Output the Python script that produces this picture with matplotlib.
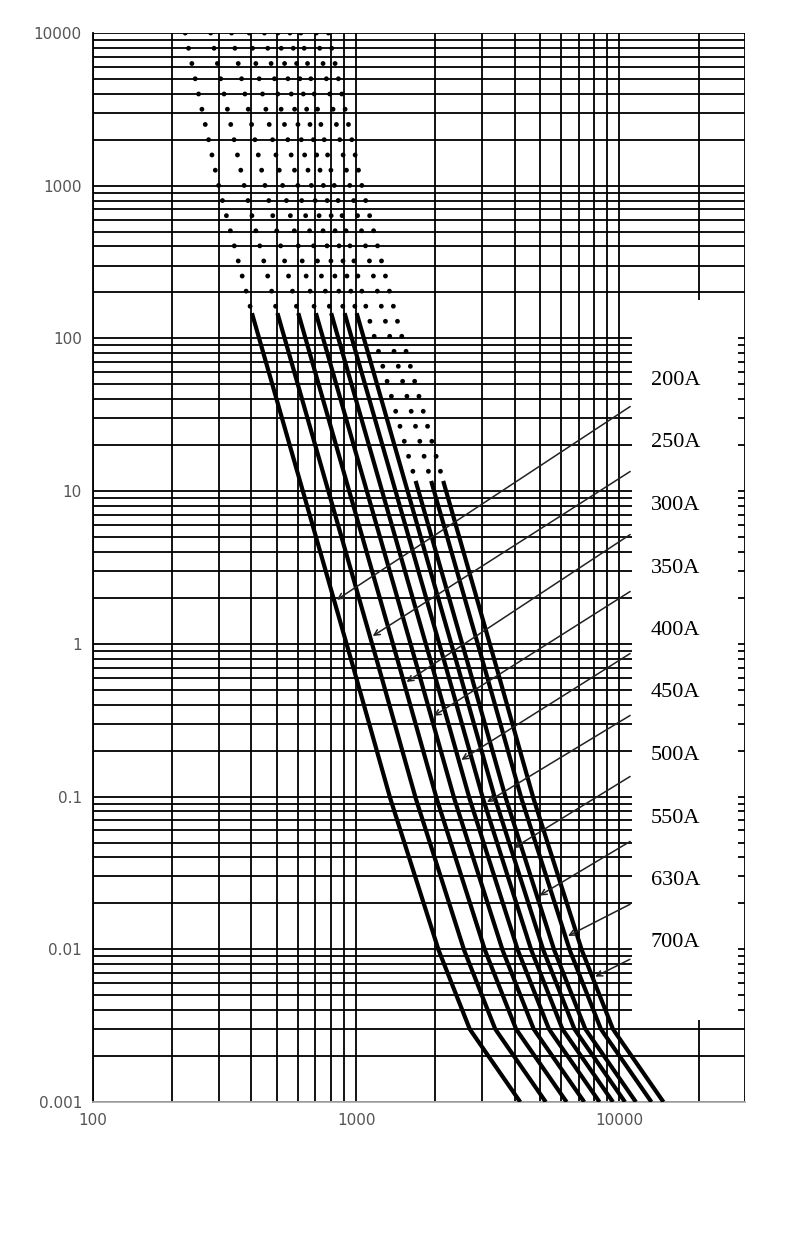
import numpy as np
import matplotlib
matplotlib.use("Agg")
import matplotlib.pyplot as plt
from matplotlib.patches import Rectangle

ratings = [200, 250, 300, 350, 400, 450, 500, 550, 630, 700]
labels = ["200A", "250A", "300A", "350A", "400A", "450A", "500A", "550A", "630A", "700A"]
# per-unit melting curve: multiple of rated current vs time (s)
pu_mult = [1.12, 1.5, 2.0, 4.6, 6.7, 10.25, 13.5, 21.0]
pu_time = [10000, 1000, 150, 1.0, 0.1, 0.01, 0.003, 0.001]
# time below which curve is drawn solid
solid_below = [150, 150, 150, 150, 150, 150, 150, 11.7, 11.7, 11.7]
# arrow tip times on each curve
arrow_tip_t = [1.9, 1.1, 0.55, 0.33, 0.17, 0.09, 0.045, 0.022, 0.012, 0.0065]
yticks = [10000, 1000, 100, 10, 1, 0.1, 0.01, 0.001]
ytick_labels = ["10000", "1000", "100", "10", "1", "0.1", "0.01", "0.001"]
xticks = [100, 1000, 10000]
xtick_labels = ["100", "1000", "10000"]

W, H = 790, 1235
fig = plt.figure(figsize=(W/100, H/100), dpi=100)
L, R, T, B = 93, 745, 33, 1102
ax = fig.add_axes([L/W, 1-B/H, (R-L)/W, (B-T)/H])
ax.set_xscale("log"); ax.set_yscale("log")
ax.set_xlim(100, 30000); ax.set_ylim(0.001, 10000)

# grid
for d in [1e-3, 1e-2, 1e-1, 1, 10, 100, 1000]:
    for m in range(1, 10):
        ax.axhline(d*m, color="black", lw=1.3, zorder=1)
ax.axhline(10000, color="black", lw=1.3, zorder=1)
for d in [100, 1000, 10000]:
    for m in range(1, 10):
        if d*m <= 30000:
            ax.axvline(d*m, color="black", lw=1.3, zorder=1)

# white label box
def px2data(px, py):
    x = 10**(2 + (px-93)/262.0)
    y = 10**(4 - (py-33)/152.71)
    return x, y
x0, y0 = px2data(630, 1020); x1, y1 = px2data(735, 300)
ax.add_patch(Rectangle((x0, y0), x1-x0, y1-y0, facecolor="white", edgecolor="none", zorder=2))

lpt = np.log10(pu_time)[::-1]
lpm = np.log10(pu_mult)[::-1]
t = np.logspace(4, -3, 600)
for r, sb in zip(ratings, solid_below):
    I = r * 10**np.interp(np.log10(t), lpt, lpm)
    s = t <= sb
    ax.plot(I[s], t[s], color="black", lw=3, zorder=4, solid_capstyle="butt")
    d = t >= sb
    ax.plot(I[d], t[d], color="black", lw=3.5, ls=(0, (0.01, 3.2)), dash_capstyle="round", zorder=4)

label_py = [380, 442, 505, 568, 630, 692, 755, 818, 880, 942]
arrow_py = [405, 470, 533, 590, 652, 714, 775, 840, 903, 958]
for r, lab, lp, ap, tt in zip(ratings, labels, label_py, arrow_py, arrow_tip_t):
    lx, ly = px2data(648, lp)
    ax.text(lx, ly, lab, fontsize=16, family="Liberation Serif", va="center", ha="left", zorder=6)
    tipI = r * 10**np.interp(np.log10(tt), lpt, lpm)
    ax.annotate("", xy=(tipI, tt), xytext=px2data(630, ap),
                arrowprops=dict(arrowstyle="->", color="#222222", lw=1.1), zorder=5)

ax.set_yticks(yticks); ax.set_yticklabels(ytick_labels)
ax.set_xticks(xticks); ax.set_xticklabels(xtick_labels)
ax.minorticks_off()
ax.tick_params(length=0, labelsize=11, colors="#555555", pad=8)
for sp in ["top", "right"]:
    ax.spines[sp].set_visible(False)
ax.spines["left"].set_linewidth(1.3); ax.spines["bottom"].set_linewidth(1.3)
ax.spines["bottom"].set_color("#aaaaaa")
fig.savefig("out.png", dpi=100)
